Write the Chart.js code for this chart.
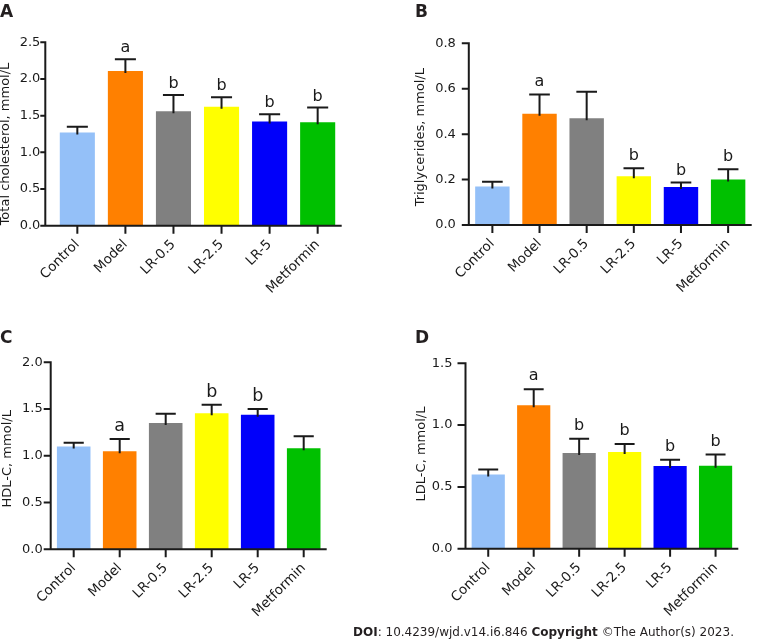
<!DOCTYPE html>
<html>
<head>
<meta charset="utf-8">
<script src="https://cdn.jsdelivr.net/npm/chart.js@4.4.1/dist/chart.umd.min.js"></script>
<style>
  body { margin: 0; background: #fff; }
  #wrap { position: relative; width: 758px; height: 641px; overflow: hidden; background: #fff; }
  canvas { position: absolute; }
  #doi { position: absolute; left: 353px; top: 625px; font: 12px "DejaVu Sans", sans-serif; color: #231f20; white-space: nowrap; }
</style>
</head>
<body>
<div id="wrap">
  <canvas id="chA" width="379" height="300" style="left:0;top:0"></canvas>
  <canvas id="chB" width="379" height="300" style="left:379px;top:0"></canvas>
  <canvas id="chC" width="379" height="341" style="left:0;top:300px"></canvas>
  <canvas id="chD" width="379" height="341" style="left:379px;top:300px"></canvas>
  <div id="doi"><b>DOI</b>: 10.4239/wjd.v14.i6.846 <b>Copyright</b> ©The Author(s) 2023.</div>
</div>
<script>
// groepen en kleuren
const categories = ["Control", "Model", "LR-0.5", "LR-2.5", "LR-5", "Metformin"];
const barColors = ["#94c0f8", "#ff8000", "#808080", "#ffff00", "#0000fa", "#00c000"];

// A: totaal cholesterol
const tcMean = [1.27, 2.11, 1.56, 1.62, 1.42, 1.41];
const tcErr = [0.08, 0.16, 0.22, 0.13, 0.10, 0.20];
const tcSig = ["", "a", "b", "b", "b", "b"];

// B: triglyceriden
const tgMean = [0.17, 0.49, 0.47, 0.215, 0.167, 0.20];
const tgErr = [0.02, 0.085, 0.117, 0.035, 0.02, 0.045];
const tgSig = ["", "a", "", "b", "b", "b"];

// C: HDL-C
const hdlMean = [1.10, 1.05, 1.35, 1.455, 1.44, 1.08];
const hdlErr = [0.04, 0.13, 0.10, 0.09, 0.06, 0.13];
const hdlSig = ["", "a", "", "b", "b", ""];

// D: LDL-C
const ldlMean = [0.60, 1.16, 0.774, 0.782, 0.669, 0.672];
const ldlErr = [0.04, 0.13, 0.115, 0.065, 0.05, 0.09];
const ldlSig = ["", "a", "b", "b", "b", "b"];

const INK = "#1a1a1a";
const FONT = "'DejaVu Sans', Verdana, sans-serif";

// Plugin: assen, foutbalken, letters en titels
function panelPlugin(cfg) {
    return {
        id: "panel" + cfg.tag,
        afterDatasetsDraw(chart) {
            const ctx = chart.ctx;
            const xs = chart.scales.x, ys = chart.scales.y;
            const zero = ys.getPixelForValue(0);
            const top = ys.getPixelForValue(cfg.max);
            const ax = cfg.axisX - cfg.cx;
            ctx.save();
            ctx.strokeStyle = INK;
            ctx.lineWidth = 2;
            ctx.lineCap = "butt";

            // foutbalken
            const meta = chart.getDatasetMeta(0);
            cfg.means.forEach((m, i) => {
                const xc = xs.getPixelForValue(i);
                const yt = ys.getPixelForValue(m + cfg.errs[i]);
                const ym = ys.getPixelForValue(m);
                const half = meta.data[i].width * 0.3;
                ctx.beginPath();
                ctx.moveTo(xc, ym + 2);
                ctx.lineTo(xc, yt);
                ctx.moveTo(xc - half, yt);
                ctx.lineTo(xc + half, yt);
                ctx.stroke();
                if (cfg.sig[i]) {
                    ctx.fillStyle = INK;
                    ctx.font = cfg.sigSize + "px " + FONT;
                    ctx.textAlign = "center";
                    ctx.textBaseline = "alphabetic";
                    ctx.fillText(cfg.sig[i], xc, yt - cfg.sigGap);
                }
            });

            // y-as en x-as
            ctx.beginPath();
            ctx.moveTo(ax, top - 1);
            ctx.lineTo(ax, zero + 1);
            ctx.moveTo(ax - 1, zero);
            ctx.lineTo(chart.chartArea.right, zero);
            ys.ticks.forEach(t => {
                const yp = ys.getPixelForValue(t.value);
                ctx.moveTo(ax - cfg.yTick, yp);
                ctx.lineTo(ax, yp);
            });
            categories.forEach((c, i) => {
                const xp = xs.getPixelForValue(i);
                ctx.moveTo(xp, zero);
                ctx.lineTo(xp, zero + 8);
            });
            ctx.stroke();

            // as-titel
            ctx.fillStyle = INK;
            ctx.font = "13px " + FONT;
            ctx.textAlign = "center";
            ctx.textBaseline = "middle";
            ctx.translate(cfg.titleX - cfg.cx, (top + zero) / 2 + cfg.titleShift);
            ctx.rotate(-Math.PI / 2);
            ctx.fillText(cfg.title, 0, 0);
            ctx.restore();

            // paneelletter
            ctx.save();
            ctx.fillStyle = "#231f20";
            ctx.font = "bold 17px " + FONT;
            ctx.textAlign = "left";
            ctx.textBaseline = "alphabetic";
            ctx.fillText(cfg.tag, cfg.tagX - cfg.cx, cfg.tagY - cfg.cy);
            ctx.restore();
        }
    };
}

function makePanel(cfg) {
    const canvas = document.getElementById(cfg.id);
    const labelRight = cfg.axisX - cfg.labelGap;
    return new Chart(canvas, {
        type: "bar",
        data: {
            labels: categories,
            datasets: [{
                data: cfg.means,
                backgroundColor: barColors,
                borderWidth: 0,
                barPercentage: 0.73,
                categoryPercentage: 1
            }]
        },
        options: {
            responsive: false,
            animation: false,
            layout: { padding: { top: cfg.top - cfg.cy, right: canvas.width - (cfg.right - cfg.cx), left: 0, bottom: 0 } },
            plugins: { legend: { display: false }, tooltip: { enabled: false } },
            scales: {
                x: {
                    offset: true,
                    grid: { display: false, drawTicks: false },
                    border: { display: false },
                    ticks: { minRotation: 45, maxRotation: 45, padding: 11, color: INK, font: { family: FONT, size: 13.5 } },
                    afterFit: s => { s.height = canvas.height - (cfg.zero - cfg.cy); }
                },
                y: {
                    min: 0,
                    max: cfg.max,
                    grid: { display: false, drawTicks: false },
                    border: { display: false },
                    ticks: {
                        stepSize: cfg.step,
                        padding: cfg.catLeft - labelRight,
                        color: INK,
                        font: { family: FONT, size: 13 },
                        callback: v => Number(v).toFixed(1)
                    },
                    afterFit: s => { s.width = cfg.catLeft - cfg.cx; }
                }
            }
        },
        plugins: [panelPlugin(cfg)]
    });
}

makePanel({ id: "chA", tag: "A", cx: 0, cy: 0, axisX: 45.3, catLeft: 53.3, top: 42.3, zero: 225.7, right: 341.7,
    max: 2.5, step: 0.5, means: tcMean, errs: tcErr, sig: tcSig, sigSize: 16, sigGap: 7,
    yTick: 5, labelGap: 5, title: "Total cholesterol, mmol/L", titleX: 6, titleShift: 10, tagX: 0, tagY: 17 });

makePanel({ id: "chB", tag: "B", cx: 379, cy: 0, axisX: 468.8, catLeft: 468.8, top: 43.3, zero: 225, right: 751.7,
    max: 0.8, step: 0.2, means: tgMean, errs: tgErr, sig: tgSig, sigSize: 16, sigGap: 8,
    yTick: 7, labelGap: 13, title: "Triglycerides, mmol/L", titleX: 421, titleShift: 3, tagX: 415, tagY: 17 });

makePanel({ id: "chC", tag: "C", cx: 0, cy: 300, axisX: 50.7, catLeft: 50.7, top: 362.3, zero: 549.3, right: 326.7,
    max: 2.0, step: 0.5, means: hdlMean, errs: hdlErr, sig: hdlSig, sigSize: 17.5, sigGap: 8,
    yTick: 7, labelGap: 8, title: "HDL-C, mmol/L", titleX: 8, titleShift: 3, tagX: 0, tagY: 343 });

makePanel({ id: "chD", tag: "D", cx: 379, cy: 300, axisX: 465.5, catLeft: 465.5, top: 363.3, zero: 548.7, right: 738.3,
    max: 1.5, step: 0.5, means: ldlMean, errs: ldlErr, sig: ldlSig, sigSize: 16, sigGap: 9,
    yTick: 8, labelGap: 13, title: "LDL-C, mmol/L", titleX: 422, titleShift: -2, tagX: 415, tagY: 343 });
</script>
</body>
</html>
